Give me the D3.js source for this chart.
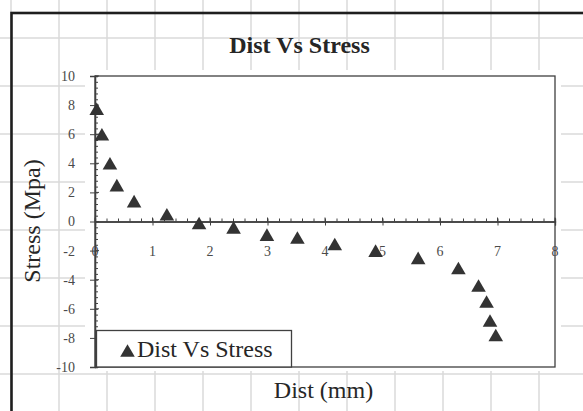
<!DOCTYPE html>
<html>
<head>
	<meta charset="utf-8">
	<title>Dist Vs Stress</title>
	<style type="text/css">
	body { margin:0; background:#fff; }
	svg { display:block; }
	text { font-family:"Liberation Serif","Times New Roman",serif; }
	</style>
</head>
<body>
	<div id="chart"></div>
	<script src="https://d3js.org/d3.v7.min.js"></script>
	<script type="text/javascript">
		// datos
		var dist   = [0.03, 0.12, 0.26, 0.38, 0.68, 1.25, 1.81, 2.41, 2.99, 3.52, 4.17, 4.88, 5.62, 6.32, 6.67, 6.81, 6.87, 6.97];
		var stress = [7.75, 6.0, 4.0, 2.5, 1.4, 0.5, -0.1, -0.4, -0.9, -1.1, -1.55, -2.0, -2.5, -3.2, -4.4, -5.5, -6.8, -7.8];
		var xTicks = [0, 1, 2, 3, 4, 5, 6, 7, 8];
		var yTicks = [10, 8, 6, 4, 2, 0, -2, -4, -6, -8, -10];
		var title = "Dist Vs Stress";
		var xTitle = "Dist (mm)";
		var yTitle = "Stress (Mpa)";

		var W = 583, H = 411;
		var svg = d3.select("#chart").append("svg")
			.attr("width", W).attr("height", H);

		// cuadricula de la hoja de calculo (fondo)
		var bg = svg.append("g");
		bg.selectAll("line.v").data(d3.range(11, W + 48, 48)).enter().append("line")
			.attr("x1", function(d){ return d; }).attr("x2", function(d){ return d; })
			.attr("y1", 0).attr("y2", H)
			.attr("stroke", "#dadada").attr("stroke-width", 1.5);
		bg.selectAll("line.h").data(d3.range(38, H + 48, 48)).enter().append("line")
			.attr("y1", function(d){ return d; }).attr("y2", function(d){ return d; })
			.attr("x1", 0).attr("x2", W)
			.attr("stroke", "#dadada").attr("stroke-width", 1.5);

		// borde del grafico
		svg.append("rect").attr("x", 11.5).attr("y", 13).attr("width", 700).attr("height", 500)
			.attr("fill", "none").attr("stroke", "#1e1e1e").attr("stroke-width", 2.6);

		// area blanca del plot
		svg.append("rect").attr("x", 85).attr("y", 70).attr("width", 476).attr("height", 301)
			.attr("fill", "#fff");

		var x = d3.scaleLinear().domain([0, 8]).range([95, 555]);
		var y = d3.scaleLinear().domain([-10, 10]).range([367, 76]);

		// titulo
		svg.append("text").text(title)
			.attr("x", 299.5).attr("y", 53)
			.attr("text-anchor", "middle")
			.attr("font-size", 24).attr("font-weight", "bold")
			.attr("fill", "#262626");

		// eje y en x=0
		var yAxis = svg.append("g").attr("transform", "translate(" + x(0) + ",0)");
		yAxis.call(d3.axisRight(y).tickValues(d3.range(-10, 10.01, 0.4)).tickSize(3).tickFormat(""));
		yAxis.call(function(g){
			g.append("g").call(d3.axisLeft(y).tickValues(yTicks).tickSize(5).tickFormat(""));
			g.selectAll("g > g.tick").filter(function(){ return false; });
		});
		// ticks mayores cruzados
		yAxis.selectAll(".tick line").attr("stroke", "#404040");
		yAxis.selectAll("path.domain").attr("stroke", "#404040").attr("stroke-width", 1.3);
		svg.append("g").selectAll("line").data(yTicks).enter().append("line")
			.attr("x1", x(0)).attr("x2", x(0) + 4)
			.attr("y1", function(d){ return y(d); }).attr("y2", function(d){ return y(d); })
			.attr("stroke", "#404040");

		// etiquetas eje y
		svg.append("g").selectAll("text").data(yTicks).enter().append("text")
			.text(function(d){ return d; })
			.attr("x", 75).attr("y", function(d){ return y(d); })
			.attr("dy", "0.35em")
			.attr("text-anchor", "end")
			.attr("font-size", 14).attr("fill", "#4a4a4a");

		// eje x en y=0
		var xAxis = svg.append("g").attr("transform", "translate(0," + y(0) + ")");
		xAxis.call(d3.axisTop(x).tickValues(d3.range(0, 8.01, 0.2)).tickSize(3).tickFormat(""));
		xAxis.append("g").call(d3.axisBottom(x).tickValues(xTicks).tickSize(4).tickFormat(""));
		xAxis.selectAll("path.domain").attr("stroke", "#404040").attr("stroke-width", 1.3);
		xAxis.selectAll(".tick line").attr("stroke", "#404040");
		svg.append("g").selectAll("line").data(xTicks).enter().append("line")
			.attr("x1", function(d){ return x(d); }).attr("x2", function(d){ return x(d); })
			.attr("y1", y(0) - 4).attr("y2", y(0))
			.attr("stroke", "#404040");

		// etiquetas eje x
		svg.append("g").selectAll("text").data(xTicks).enter().append("text")
			.text(function(d){ return d; })
			.attr("x", function(d){ return x(d); }).attr("y", 256)
			.attr("text-anchor", "middle")
			.attr("font-size", 14).attr("fill", "#4a4a4a");

		// borde del area del plot
		svg.append("rect").attr("x", x(0)).attr("y", y(10))
			.attr("width", x(8) - x(0)).attr("height", y(-10) - y(10))
			.attr("fill", "none").attr("stroke", "#404040").attr("stroke-width", 1.3);

		// triangulo centrado en su caja
		var tri = {
			draw: function(ctx, size){
				var s = Math.sqrt(size * 4 / Math.sqrt(3));
				var h = s * Math.sqrt(3) / 2;
				ctx.moveTo(0, -h / 2);
				ctx.lineTo(s / 2, h / 2);
				ctx.lineTo(-s / 2, h / 2);
				ctx.closePath();
			}
		};
		var marker = d3.symbol().type(tri).size(92);

		svg.append("g").selectAll("path").data(dist).enter().append("path")
			.attr("d", marker)
			.attr("transform", function(d, i){ return "translate(" + x(d) + "," + y(stress[i]) + ")"; })
			.attr("fill", "#333");

		// leyenda
		var leg = svg.append("g");
		leg.append("rect").attr("x", 96.5).attr("y", 330.5).attr("width", 195).attr("height", 36.5)
			.attr("fill", "#fff").attr("stroke", "#404040").attr("stroke-width", 1.3);
		leg.append("path").attr("d", marker)
			.attr("transform", "translate(127.5,350.5)").attr("fill", "#333");
		leg.append("text").text(title)
			.attr("x", 137).attr("y", 357)
			.attr("font-size", 24).attr("fill", "#262626");

		// titulos de ejes
		svg.append("text").text(xTitle)
			.attr("x", 323.5).attr("y", 398)
			.attr("text-anchor", "middle")
			.attr("font-size", 24).attr("fill", "#262626");
		svg.append("text").text(yTitle)
			.attr("transform", "translate(40,221) rotate(-90)")
			.attr("text-anchor", "middle")
			.attr("font-size", 24).attr("fill", "#262626");
	</script>
</body>
</html>
